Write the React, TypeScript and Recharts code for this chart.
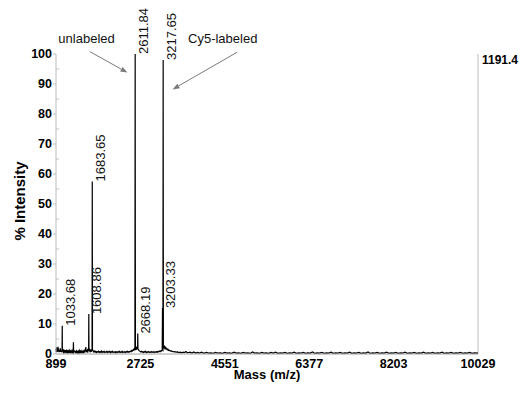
import React from 'react';
import { ComposedChart, Line, XAxis, YAxis, ReferenceLine, ReferenceDot } from 'recharts';

const FONT = "'Liberation Sans', Arial, Helvetica, sans-serif";

const xTicks = [899, 2725, 4551, 6377, 8203, 10029];
const yTicks = [0, 10, 20, 30, 40, 50, 60, 70, 80, 90, 100];
const minorYTicks = [5, 15, 25, 35, 45, 55, 65, 75, 85, 95];
const cornerValue = '1191.4';

// [m/z, % intensity]
const spectrum: [number, number][] = [
  [899, 1.8], [905, 0.6], [912, 2.2], [920, 0.9], [928, 1.6], [936, 0.7], [944, 2.4], [952, 1.0],
  [960, 1.5], [968, 0.6], [976, 1.3], [984, 0.8], [992, 1.9], [1000, 0.7], [1008, 1.2], [1016, 0.6],
  [1024, 1.1], [1030, 0.8], [1033.68, 9.4], [1037, 0.9], [1045, 1.4], [1055, 0.7], [1065, 1.2],
  [1075, 0.6], [1085, 1.0], [1095, 0.5], [1105, 1.3], [1115, 0.7], [1125, 1.1], [1135, 0.6],
  [1145, 1.0], [1155, 0.5], [1165, 0.9], [1175, 0.6], [1185, 1.2], [1195, 0.7], [1205, 1.0],
  [1215, 0.5], [1225, 0.9], [1235, 0.6], [1245, 1.1], [1255, 0.5], [1265, 0.8], [1272, 0.6],
  [1276, 3.9], [1280, 0.7], [1290, 0.9], [1303, 1.0], [1313, 0.5], [1323, 0.8], [1333, 0.6],
  [1343, 1.0], [1353, 0.5], [1363, 0.8], [1373, 0.4], [1383, 0.9], [1393, 0.6], [1403, 1.1],
  [1413, 0.5], [1423, 0.9], [1433, 0.6], [1443, 1.0], [1453, 0.5], [1463, 0.8], [1473, 0.6],
  [1483, 1.0], [1493, 0.5], [1503, 0.9], [1513, 0.7], [1523, 1.2], [1533, 0.8], [1540, 1.6],
  [1545, 2.3], [1550, 0.9], [1560, 1.1], [1570, 0.8], [1580, 1.3], [1590, 0.9], [1600, 1.4],
  [1605, 1.1], [1608.86, 13.3], [1612, 1.2], [1620, 1.6], [1630, 1.0], [1640, 1.3], [1650, 0.9],
  [1660, 1.2], [1670, 1.0], [1679, 1.5], [1683.65, 57.5], [1688, 1.6], [1695, 1.2], [1705, 1.0],
  [1715, 0.7], [1730, 1.0], [1745, 0.6], [1760, 0.9], [1775, 0.5], [1790, 0.8], [1805, 0.6],
  [1820, 0.9], [1835, 0.5], [1850, 0.8], [1865, 0.6], [1880, 1.0], [1895, 0.5], [1910, 0.8],
  [1925, 0.6], [1940, 0.9], [1955, 0.5], [1970, 0.7], [1985, 0.6], [2000, 0.9], [2015, 0.5],
  [2030, 0.8], [2045, 0.6], [2060, 0.9], [2075, 0.4], [2090, 0.8], [2105, 0.6], [2120, 0.9],
  [2135, 0.5], [2150, 0.7], [2165, 0.6], [2180, 0.8], [2195, 0.4], [2210, 0.7], [2225, 0.5],
  [2240, 0.8], [2255, 0.6], [2270, 0.9], [2285, 0.5], [2300, 0.7], [2315, 0.6], [2330, 0.9],
  [2345, 0.5], [2360, 0.7], [2375, 0.6], [2390, 0.8], [2405, 0.5], [2420, 0.8], [2435, 0.6],
  [2450, 0.9], [2465, 0.6], [2480, 0.8], [2495, 0.7], [2510, 1.0], [2525, 0.8], [2540, 1.2],
  [2555, 1.0], [2570, 1.5], [2585, 1.3], [2595, 1.8], [2606, 1.6], [2611.84, 100], [2617, 1.9],
  [2628, 1.6], [2640, 2.1], [2650, 1.7], [2660, 1.9], [2664, 1.6], [2668.19, 6.8], [2672, 1.7],
  [2680, 1.5], [2692, 1.2], [2705, 1.0], [2720, 0.9], [2735, 0.7], [2750, 0.9], [2765, 0.6],
  [2780, 0.8], [2795, 0.5], [2810, 0.8], [2825, 0.6], [2840, 0.9], [2855, 0.5], [2870, 0.7],
  [2885, 0.6], [2900, 0.8], [2915, 0.5], [2930, 0.7], [2945, 0.6], [2960, 0.8], [2975, 0.5],
  [2990, 0.7], [3005, 0.6], [3020, 0.8], [3035, 0.5], [3050, 0.7], [3065, 0.6], [3080, 0.8],
  [3095, 0.6], [3110, 0.9], [3125, 0.7], [3140, 1.0], [3155, 0.8], [3170, 1.1], [3185, 1.0],
  [3197, 1.3], [3203.33, 15.3], [3208, 1.5], [3212, 1.4], [3217.65, 98], [3222, 2.0], [3228, 2.6],
  [3236, 2.2], [3245, 2.5], [3255, 1.9], [3265, 2.2], [3278, 1.7], [3290, 1.9], [3305, 1.4],
  [3320, 1.6], [3335, 1.2], [3350, 1.3], [3370, 1.0], [3390, 1.1], [3410, 0.8], [3430, 0.9],
  [3450, 0.7], [3475, 0.8], [3500, 0.6], [3530, 0.7], [3560, 0.5], [3590, 0.6], [3620, 0.4],
  [3650, 0.6], [3680, 0.5], [3710, 0.8], [3740, 0.4], [3770, 0.5], [3800, 0.6], [3840, 0.3],
  [3880, 0.7], [3920, 0.3], [3960, 0.5], [4000, 0.3], [4050, 0.6], [4100, 0.2], [4150, 0.5],
  [4200, 0.3], [4250, 0.4], [4300, 0.2], [4350, 0.5], [4400, 0.3], [4450, 0.4], [4500, 0.2],
  [4550, 0.5], [4600, 0.3], [4650, 0.4], [4700, 0.2], [4750, 0.6], [4800, 0.3], [4850, 0.4],
  [4900, 0.2], [4950, 0.5], [5000, 0.3], [5050, 0.4], [5100, 0.2], [5150, 0.7], [5200, 0.3],
  [5250, 0.4], [5300, 0.2], [5350, 0.5], [5400, 0.3], [5450, 0.4], [5500, 0.2], [5550, 0.5],
  [5600, 0.3], [5650, 0.6], [5700, 0.2], [5750, 0.4], [5800, 0.3], [5850, 0.5], [5900, 0.2],
  [5950, 0.4], [6000, 0.3], [6050, 0.6], [6100, 0.2], [6150, 0.4], [6200, 0.3], [6250, 0.5],
  [6300, 0.2], [6350, 0.4], [6400, 0.3], [6450, 0.7], [6500, 0.2], [6550, 0.4], [6600, 0.3],
  [6650, 0.5], [6700, 0.2], [6750, 0.4], [6800, 0.3], [6850, 0.6], [6900, 0.2], [6950, 0.4],
  [7000, 0.3], [7050, 0.5], [7100, 0.2], [7150, 0.4], [7200, 0.3], [7250, 0.6], [7300, 0.2],
  [7350, 0.4], [7400, 0.3], [7450, 0.5], [7500, 0.2], [7550, 0.4], [7600, 0.3], [7650, 0.7],
  [7700, 0.2], [7750, 0.4], [7800, 0.3], [7850, 0.5], [7900, 0.2], [7950, 0.4], [8000, 0.3],
  [8050, 0.6], [8100, 0.2], [8150, 0.4], [8200, 0.3], [8250, 0.5], [8300, 0.2], [8350, 0.4],
  [8400, 0.3], [8450, 0.6], [8500, 0.2], [8550, 0.4], [8600, 0.3], [8650, 0.5], [8700, 0.2],
  [8750, 0.4], [8800, 0.3], [8850, 0.6], [8900, 0.2], [8950, 0.4], [9000, 0.3], [9050, 0.5],
  [9100, 0.2], [9150, 0.4], [9200, 0.3], [9250, 0.6], [9300, 0.2], [9350, 0.4], [9400, 0.3],
  [9450, 0.5], [9500, 0.2], [9550, 0.4], [9600, 0.3], [9650, 0.5], [9700, 0.2], [9750, 0.4],
  [9800, 0.3], [9850, 0.5], [9900, 0.2], [9950, 0.4], [10029, 0.3],
];

const peakLabels = [
  { mz: 1033.68, h: 9.4, label: '1033.68' },
  { mz: 1608.86, h: 13.3, label: '1608.86' },
  { mz: 1683.65, h: 57.5, label: '1683.65' },
  { mz: 2611.84, h: 100, label: '2611.84' },
  { mz: 2668.19, h: 6.8, label: '2668.19' },
  { mz: 3203.33, h: 15.3, label: '3203.33' },
  { mz: 3217.65, h: 98, label: '3217.65' },
];

const annotations = [
  { text: 'unlabeled', tx: 1560, ty: 103.7, from: [1630, 100.8], to: [2445, 93.8] },
  { text: 'Cy5-labeled', tx: 4506, ty: 103.8, from: [4818, 100.6], to: [3421, 88.2] },
];

const chartData = spectrum.map(([mz, i]) => ({ mz, i }));

const Arrow = (p: any) => {
  const { x1, y1, x2, y2 } = p;
  const dx = x2 - x1;
  const dy = y2 - y1;
  const len = Math.sqrt(dx * dx + dy * dy) || 1;
  const ux = dx / len;
  const uy = dy / len;
  const hl = 7;
  const hw = 2.6;
  const bx = x2 - ux * hl;
  const by = y2 - uy * hl;
  const pts = `${x2},${y2} ${bx - uy * hw},${by + ux * hw} ${bx + uy * hw},${by - ux * hw}`;
  return (
    <g>
      <line x1={x1} y1={y1} x2={bx} y2={by} stroke="#7a7a7a" strokeWidth={1} />
      <polygon points={pts} fill="#7a7a7a" />
    </g>
  );
};

const MinorTick = (p: any) => (
  <line x1={p.x1} y1={p.y1} x2={p.x1 + 3} y2={p.y1} stroke="#c4c4c4" strokeWidth={1} />
);

export default function App() {
  return (
    <div style={{ position: 'absolute', left: 0, top: 0, background: '#fff' }}>
      <ComposedChart
        width={521}
        height={394}
        data={chartData}
        margin={{ top: 54, right: 43, bottom: 0, left: 0 }}
      >
        <XAxis
          dataKey="mz"
          type="number"
          domain={[899, 10029]}
          ticks={xTicks}
          interval={0}
          height={40}
          tickLine={false}
          tickSize={0}
          tickMargin={5}
          axisLine={{ stroke: '#a0a0a0' }}
          tick={{ fontSize: 12.5, fontWeight: 'bold', fill: '#000', fontFamily: FONT }}
          label={() => (
            <text x={267} y={379} textAnchor="middle" fontSize={13} fontWeight="bold" fontFamily={FONT} fill="#000">
              Mass (m/z)
            </text>
          )}
        />
        <YAxis
          type="number"
          domain={[0, 100]}
          ticks={yTicks}
          interval={0}
          width={56}
          tickSize={3}
          tickMargin={1}
          axisLine={{ stroke: '#bdbdbd' }}
          tickLine={{ stroke: '#bdbdbd' }}
          tick={{ fontSize: 12.5, fontWeight: 'bold', fill: '#000', fontFamily: FONT }}
          label={() => (
            <text x={25} y={201} transform="rotate(-90 25 201)" textAnchor="middle" fontSize={15} fontWeight="bold" fontFamily={FONT} fill="#000">
              % Intensity
            </text>
          )}
        />
        <ReferenceLine x={10029} stroke="#bdbdbd" ifOverflow="visible" />
        {minorYTicks.map((v) => (
          <ReferenceLine
            key={`m${v}`}
            segment={[{ x: 899, y: v }, { x: 960, y: v }]}
            ifOverflow="visible"
            shape={MinorTick}
          />
        ))}
        <Line
          dataKey="i"
          type="linear"
          stroke="#000"
          strokeWidth={1.2}
          dot={false}
          activeDot={false}
          isAnimationActive={false}
        />
        {peakLabels.map((p) => (
          <ReferenceDot
            key={p.label}
            x={p.mz}
            y={p.h}
            r={0}
            ifOverflow="visible"
            shape={(s: any) => {
              const x = s.cx + 12.5;
              const y = s.cy;
              return (
                <text x={x} y={y} transform={`rotate(-90 ${x} ${y})`} textAnchor="start" fontSize={13} fontFamily={FONT} fill="#111">
                  {p.label}
                </text>
              );
            }}
          />
        ))}
        {annotations.map((a) => (
          <ReferenceLine
            key={`arrow-${a.text}`}
            segment={[{ x: a.from[0], y: a.from[1] }, { x: a.to[0], y: a.to[1] }]}
            ifOverflow="visible"
            shape={Arrow}
          />
        ))}
        {annotations.map((a) => (
          <ReferenceDot
            key={`text-${a.text}`}
            x={a.tx}
            y={a.ty}
            r={0}
            ifOverflow="visible"
            shape={(s: any) => (
              <text x={s.cx} y={s.cy} textAnchor="middle" fontSize={13} fontFamily={FONT} fill="#111">
                {a.text}
              </text>
            )}
          />
        ))}
        <ReferenceDot
          x={10029}
          y={100}
          r={0}
          ifOverflow="visible"
          shape={(s: any) => (
            <text x={s.cx + 4} y={s.cy + 10} textAnchor="start" fontSize={12} fontWeight="bold" fontFamily={FONT} fill="#000">
              {cornerValue}
            </text>
          )}
        />
      </ComposedChart>
    </div>
  );
}
